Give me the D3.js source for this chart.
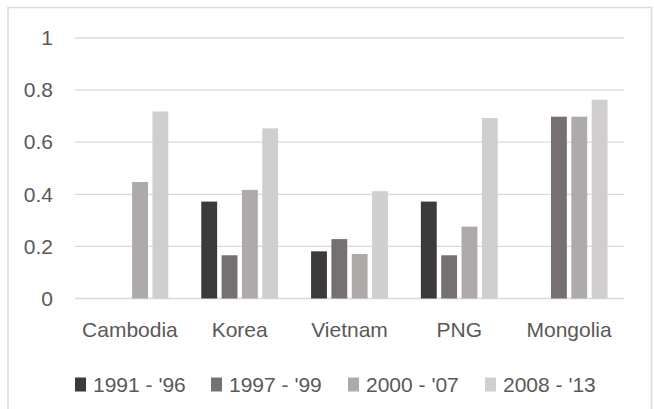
<!DOCTYPE html>
<html>
<head>
<meta charset="utf-8">
<script src="https://cdn.jsdelivr.net/npm/d3@7"></script>
<style>
  body { margin: 0; background: #fff; }
  text { font-family: "Liberation Sans", Arial, sans-serif; fill: #595959; }
</style>
</head>
<body>
<div id="chart"></div>
<script>
// chart data
var categories = ["Cambodia", "Korea", "Vietnam", "PNG", "Mongolia"];
var seriesNames = ["1991 - '96", "1997 - '99", "2000 - '07", "2008 - '13"];
var s1991 = [null, 0.372, 0.181, 0.372, null];
var s1997 = [null, 0.166, 0.228, 0.166, 0.698];
var s2000 = [0.447, 0.417, 0.171, 0.276, 0.698];
var s2008 = [0.718, 0.653, 0.412, 0.693, 0.763];
var yTicks = [0, 0.2, 0.4, 0.6, 0.8, 1];

var seriesValues = [s1991, s1997, s2000, s2008];
var colors = ["#3b3a39", "#767170", "#aeaaa9", "#d0cecf"];

var width = 654, height = 409;
var margin = { left: 75, right: 30, top: 38, bottom: 110.5 };

var svg = d3.select("#chart").append("svg")
    .attr("width", width)
    .attr("height", height);

// outer frame
svg.append("rect")
    .attr("x", 8).attr("y", 7.5)
    .attr("width", 643.5).attr("height", 420)
    .attr("fill", "none")
    .attr("stroke", "#dcdcdc")
    .attr("stroke-width", 1.5);

var g = svg.append("g")
    .attr("transform", "translate(" + margin.left + "," + margin.top + ")");
var w = width - margin.left - margin.right;
var h = height - margin.top - margin.bottom;

var x0 = d3.scaleBand().domain(categories).range([0, w]).paddingInner(0.3).paddingOuter(0.15);
var x1 = d3.scaleBand().domain(d3.range(seriesNames.length)).range([0, x0.bandwidth()]).paddingInner(0.22);
var y = d3.scaleLinear().domain([0, 1]).range([h, 0]);

// gridlines
g.append("g")
    .selectAll("line")
    .data(yTicks)
    .enter().append("line")
    .attr("x1", 0).attr("x2", w)
    .attr("y1", function (d) { return y(d); })
    .attr("y2", function (d) { return y(d); })
    .attr("stroke", "#d9d9d9")
    .attr("stroke-width", 1.3);

// y axis labels
var yAxis = d3.axisLeft(y).tickValues(yTicks).tickSize(0).tickPadding(22)
    .tickFormat(function (d) { return d3.format("")(+d.toFixed(1)); });
g.append("g").attr("class", "y axis").call(yAxis)
    .call(function (a) { a.select(".domain").remove(); })
    .selectAll("text").style("font-size", "21px").attr("fill", "#595959");

// x axis labels
var xAxis = d3.axisBottom(x0).tickSize(0).tickPadding(0);
var xg = g.append("g").attr("class", "x axis")
    .attr("transform", "translate(0," + h + ")")
    .call(xAxis)
    .call(function (a) { a.select(".domain").remove(); });
xg.selectAll(".tick text")
    .attr("y", 38.5).attr("dy", 0)
    .style("font-size", "21px").attr("fill", "#595959");

// bars
var groups = g.selectAll(".grp")
    .data(categories)
    .enter().append("g")
    .attr("class", "grp")
    .attr("transform", function (d) { return "translate(" + x0(d) + ",0)"; });

groups.selectAll("rect")
    .data(function (d, i) {
        return seriesValues.map(function (s, k) { return { k: k, v: s[i] }; })
            .filter(function (e) { return e.v != null; });
    })
    .enter().append("rect")
    .attr("x", function (d) { return x1(d.k); })
    .attr("width", x1.bandwidth())
    .attr("y", function (d) { return y(d.v); })
    .attr("height", function (d) { return h - y(d.v); })
    .attr("fill", function (d) { return colors[d.k]; });

// legend
var legendX = [75, 211, 348, 485];
var legend = svg.append("g").attr("class", "legends")
    .attr("transform", "translate(0,384.5)");
var items = legend.selectAll("g")
    .data(seriesNames)
    .enter().append("g")
    .attr("transform", function (d, i) { return "translate(" + legendX[i] + ",0)"; });
items.append("rect")
    .attr("x", 0).attr("y", -7)
    .attr("width", 11).attr("height", 14)
    .attr("fill", function (d, i) { return colors[i]; });
items.append("text")
    .attr("x", 18).attr("y", 7.3)
    .style("font-size", "21px")
    .text(function (d) { return d; });
</script>
</body>
</html>
